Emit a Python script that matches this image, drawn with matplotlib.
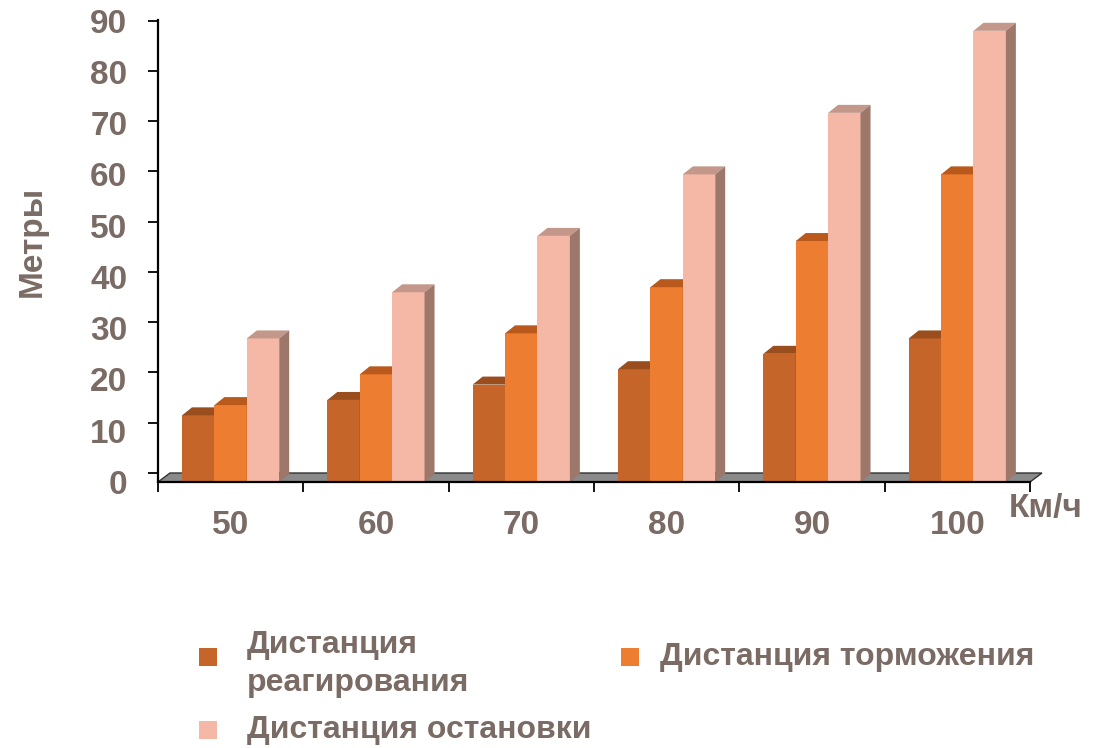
import numpy as np
import matplotlib
matplotlib.use("Agg")
import matplotlib.pyplot as plt
from matplotlib import font_manager
from matplotlib.patches import Polygon, Rectangle

speeds = ["50", "60", "70", "80", "90", "100"]
reaction = [13, 16, 19, 22, 25, 28]
braking = [15, 21, 29, 38, 47, 60]
stopping = [28, 37, 48, 60, 72, 88]
series_names = ["Дистанция\nреагирования", "Дистанция торможения", "Дистанция остановки"]
y_ticks = [0, 10, 20, 30, 40, 50, 60, 70, 80, 90]

text_col = "#7b6b65"
fronts = ["#c5652a", "#ed7d31", "#f5b8a6"]
tops = ["#9a4e1e", "#b95a1c", "#c3978a"]
sides = ["#8a4418", "#a85318", "#9c776a"]

names = {f.name for f in font_manager.fontManager.ttflist}
narrow = "Liberation Sans Narrow" if "Liberation Sans Narrow" in names else "Liberation Sans"
plt.rcParams["font.family"] = ["Liberation Sans", "DejaVu Sans"]

W, H = 1107, 748
fig = plt.figure(figsize=(W / 100, H / 100), dpi=100)

# axes box in pixels: x 158..1030, y 20..482 (top-down)
ax_l, ax_r, ax_t, ax_b = 158, 1030, 20, 482
ax = fig.add_axes([ax_l / W, 1 - ax_b / H, (ax_r - ax_l) / W, (ax_b - ax_t) / H])
px_per_unit = 5.127
ax.set_xlim(0, len(speeds))
ax.set_ylim(0, (ax_b - ax_t) / px_per_unit)

ux = len(speeds) / (ax_r - ax_l)   # data x per pixel
uy = 1 / px_per_unit              # data y per pixel
ddx, ddy = 10 * ux, 8 * uy        # bar depth
fdx, fdy = 12 * ux, 9 * uy        # floor depth

# floor
floor = Polygon([(0, 0), (len(speeds), 0), (len(speeds) + fdx, fdy), (fdx, fdy)],
                closed=True, facecolor="#8a8a8a", edgecolor="#333333", lw=1.0,
                clip_on=False, zorder=1)
ax.add_patch(floor)

# bars with top and side faces
off = 24 * ux
bw = 32.4 * ux
x = np.arange(len(speeds))
for j, vals in enumerate([reaction, braking, stopping]):
    xs = x + off + j * bw
    bars = ax.bar(xs, vals, width=bw, align="edge", color=fronts[j],
                  edgecolor="none", zorder=3 + j, clip_on=False)
    for b in bars:
        x0, h = b.get_x(), b.get_height()
        x1 = x0 + bw
        ax.add_patch(Polygon([(x0, h), (x1, h), (x1 + ddx, h + ddy), (x0 + ddx, h + ddy)],
                             closed=True, facecolor=tops[j], edgecolor="none",
                             zorder=3 + j, clip_on=False))
        ax.add_patch(Polygon([(x1, 0), (x1 + ddx, ddy), (x1 + ddx, h + ddy), (x1, h)],
                             closed=True, facecolor=sides[j], edgecolor="none",
                             zorder=3 + j, clip_on=False))

# axes
for s in ["top", "right"]:
    ax.spines[s].set_visible(False)
for s in ["left", "bottom"]:
    ax.spines[s].set_linewidth(1.6)
    ax.spines[s].set_color("black")
    ax.spines[s].set_zorder(10)
ax.patch.set_visible(False)

# tick marks sit on the back wall, labels on the front scale
wall_y = [fdy + t * 0.9803 for t in y_ticks]
ax.set_yticks(wall_y)
ax.set_yticklabels([])
ax.set_yticks(y_ticks, minor=True)
ax.set_yticklabels([str(t) for t in y_ticks], minor=True)
ax.tick_params(axis="y", which="major", direction="out", length=7.2, width=1.3)
ax.tick_params(axis="y", which="minor", length=0, pad=22,
               labelsize=24, labelcolor=text_col)
for lab in ax.get_yticklabels(minor=True):
    lab.set_fontweight("bold")

ax.set_xticks(np.arange(len(speeds) + 1))
ax.set_xticklabels([])
ax.set_xticks(x + 0.5, minor=True)
ax.set_xticklabels(speeds, minor=True)
ax.tick_params(axis="x", which="major", direction="out", length=7.2, width=1.3)
ax.tick_params(axis="x", which="minor", length=0, pad=20, labelsize=24, labelcolor=text_col)
for lab in ax.get_xticklabels(minor=True):
    lab.set_fontweight("bold")

fig.text(32 / W, 1 - 241 / H, "Метры", rotation=90, ha="center", va="center",
         fontsize=24, fontweight="bold", color=text_col)
fig.text(1046 / W, 1 - 508 / H, "Км/ч", ha="center", va="center",
         fontsize=24, fontweight="bold", color=text_col)

# legend
leg = [((199, 648), (247, 664)), ((621, 648), (660, 657)), ((199, 721), (247, 730))]
for j, ((sx, sy), (tx, ty)) in enumerate(leg):
    fig.patches.append(Rectangle((sx / W, 1 - (sy + 17.5) / H), 17.5 / W, 17.5 / H,
                                 transform=fig.transFigure, facecolor=fronts[j],
                                 edgecolor="none"))
    fig.text(tx / W, 1 - ty / H, series_names[j], ha="left", va="center",
             fontsize=23, fontweight="bold", color=text_col, family=narrow,
             linespacing=1.38)

fig.savefig("out.png", dpi=100)
